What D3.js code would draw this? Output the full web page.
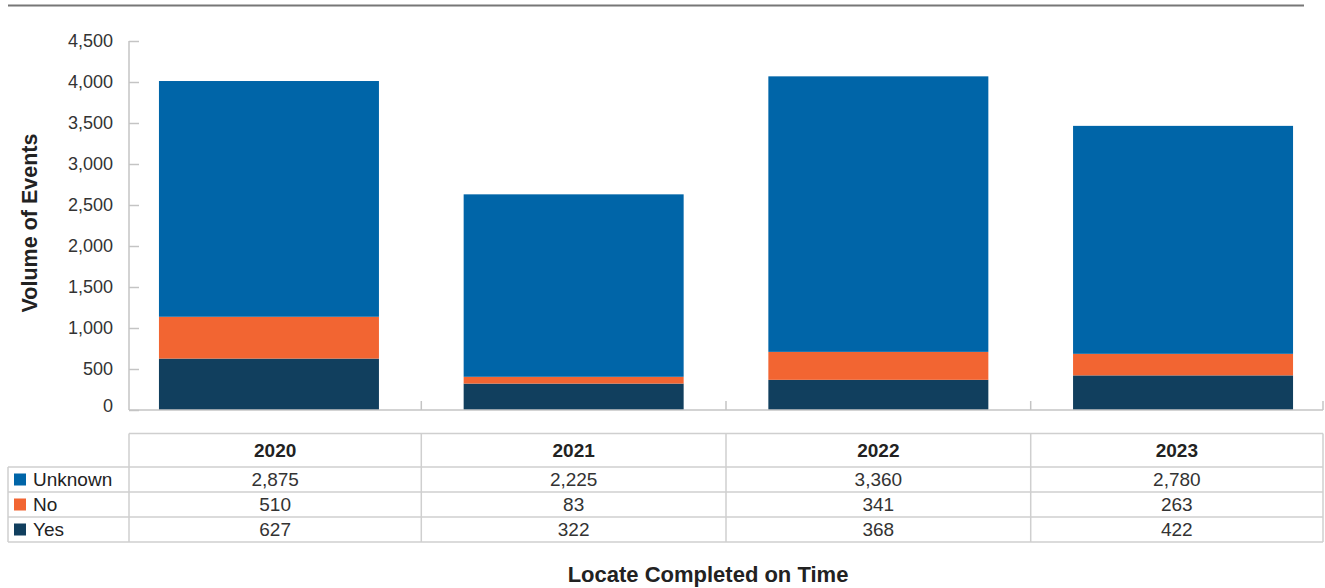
<!DOCTYPE html>
<html>
<head>
<meta charset="utf-8">
<script src="https://cdn.jsdelivr.net/npm/d3@7"></script>
<style>
  html, body { margin: 0; padding: 0; background: #fff; }
  svg { display: block; font-family: "Liberation Sans", Arial, Helvetica, sans-serif; }
</style>
</head>
<body>
<svg id="chart" width="1325" height="588"></svg>
<script>
const categories = ["2020", "2021", "2022", "2023"];
const seriesNames = ["Unknown", "No", "Yes"];
const unknownValues = [2875, 2225, 3360, 2780];
const noValues = [510, 83, 341, 263];
const yesValues = [627, 322, 368, 422];
const yTicks = [0, 500, 1000, 1500, 2000, 2500, 3000, 3500, 4000, 4500];
const colors = { Unknown: "#0065a8", No: "#f26532", Yes: "#113f5e" };

const valuesBySeries = { Unknown: unknownValues, No: noValues, Yes: yesValues };
const rows = categories.map((c, i) => ({ cat: c, Unknown: unknownValues[i], No: noValues[i], Yes: yesValues[i] }));

const svg = d3.select("#chart");
const axisLeftX = 129, axisRightX = 1323;
const y = d3.scaleLinear().domain([0, 4500]).range([410, 41]);
const x = d3.scaleBand().domain(categories).range([116.6, 1335.4]).paddingInner(0.278).paddingOuter(0.139);

// top rule
svg.append("line").attr("x1", 8).attr("x2", 1304).attr("y1", 5.5).attr("y2", 5.5)
  .attr("stroke", "#777").attr("stroke-width", 2);

// stacked bars
const stack = d3.stack().keys(["Yes", "No", "Unknown"]);
const layers = stack(rows);
svg.append("g").selectAll("g").data(layers).join("g")
  .attr("fill", d => colors[d.key])
  .selectAll("rect").data(d => d).join("rect")
  .attr("x", d => x(d.data.cat))
  .attr("width", x.bandwidth())
  .attr("y", d => y(d[1]))
  .attr("height", d => y(d[0]) - y(d[1]));

// y axis
const yAxis = d3.axisRight(y).tickValues(yTicks).tickSize(10).tickFormat("");
const gy = svg.append("g").attr("transform", `translate(${axisLeftX},0)`).call(yAxis);
gy.select(".domain").remove();
gy.selectAll(".tick line").attr("stroke", "#c4c4c4").attr("stroke-width", 1.5);
gy.append("line").attr("x1", 0).attr("x2", 0).attr("y1", y(4500)).attr("y2", y(0))
  .attr("stroke", "#c4c4c4").attr("stroke-width", 1.5);
svg.append("g").selectAll("text").data(yTicks).join("text")
  .attr("x", 113).attr("y", d => y(d) + (d === 0 ? -4 : 0))
  .attr("dy", "0.36em").attr("text-anchor", "end")
  .attr("font-size", 18).attr("fill", "#333")
  .text(d => d3.format(",")(d));

// table column boundaries derived from band scale
const half = (x.step() - x.bandwidth()) / 2;
const bounds = [axisLeftX].concat(categories.slice(1).map(c => x(c) - half)).concat([axisRightX]);

// x baseline and separators
svg.append("line").attr("x1", axisLeftX).attr("x2", axisRightX).attr("y1", y(0)).attr("y2", y(0))
  .attr("stroke", "#c4c4c4").attr("stroke-width", 1.5);
svg.append("g").selectAll("line").data(bounds.slice(1)).join("line")
  .attr("x1", d => d).attr("x2", d => d).attr("y1", y(0) - 9).attr("y2", y(0))
  .attr("stroke", "#c4c4c4").attr("stroke-width", 1.5);

// y title
svg.append("text").attr("transform", "translate(37,223) rotate(-90)")
  .attr("text-anchor", "middle").attr("font-size", 21.5).attr("font-weight", "bold").attr("fill", "#222")
  .text("Volume of Events");

// data table
const headTop = 433.5, headBottom = 467, rowH = 25, labelLeft = 8;
const rowTops = seriesNames.map((s, i) => headBottom + i * rowH);
const tableBottom = headBottom + seriesNames.length * rowH;
const tg = svg.append("g").attr("stroke", "#cfcfcf").attr("stroke-width", 1.5);
tg.append("line").attr("x1", axisLeftX).attr("x2", axisRightX).attr("y1", headTop).attr("y2", headTop);
tg.selectAll(".hl").data(rowTops.concat([tableBottom])).join("line")
  .attr("x1", labelLeft).attr("x2", axisRightX).attr("y1", d => d).attr("y2", d => d);
tg.selectAll(".vl").data(bounds).join("line")
  .attr("x1", d => d).attr("x2", d => d).attr("y1", headTop).attr("y2", tableBottom);
tg.append("line").attr("x1", labelLeft).attr("x2", labelLeft).attr("y1", headBottom).attr("y2", tableBottom);

// header labels
svg.append("g").selectAll("text").data(categories).join("text")
  .attr("x", (d, i) => (bounds[i] + bounds[i + 1]) / 2)
  .attr("y", (headTop + headBottom) / 2).attr("dy", "0.36em")
  .attr("text-anchor", "middle").attr("font-size", 19).attr("font-weight", "bold").attr("fill", "#222")
  .text(d => d);

// row labels with legend swatches
const rl = svg.append("g").selectAll("g").data(seriesNames).join("g")
  .attr("transform", (d, i) => `translate(0,${rowTops[i] + rowH / 2})`);
rl.append("rect").attr("x", 14).attr("y", -6).attr("width", 12).attr("height", 12).attr("fill", d => colors[d]);
rl.append("text").attr("x", 33).attr("dy", "0.36em").attr("font-size", 19).attr("fill", "#222").text(d => d);

// values
seriesNames.forEach((s, si) => {
  svg.append("g").selectAll("text").data(valuesBySeries[s]).join("text")
    .attr("x", (d, i) => (bounds[i] + bounds[i + 1]) / 2)
    .attr("y", rowTops[si] + rowH / 2).attr("dy", "0.36em")
    .attr("text-anchor", "middle").attr("font-size", 19).attr("fill", "#333")
    .text(d => d3.format(",")(d));
});

// x title
svg.append("text").attr("x", 708).attr("y", 582).attr("text-anchor", "middle")
  .attr("font-size", 22).attr("font-weight", "bold").attr("fill", "#222")
  .text("Locate Completed on Time");
</script>
</body>
</html>
